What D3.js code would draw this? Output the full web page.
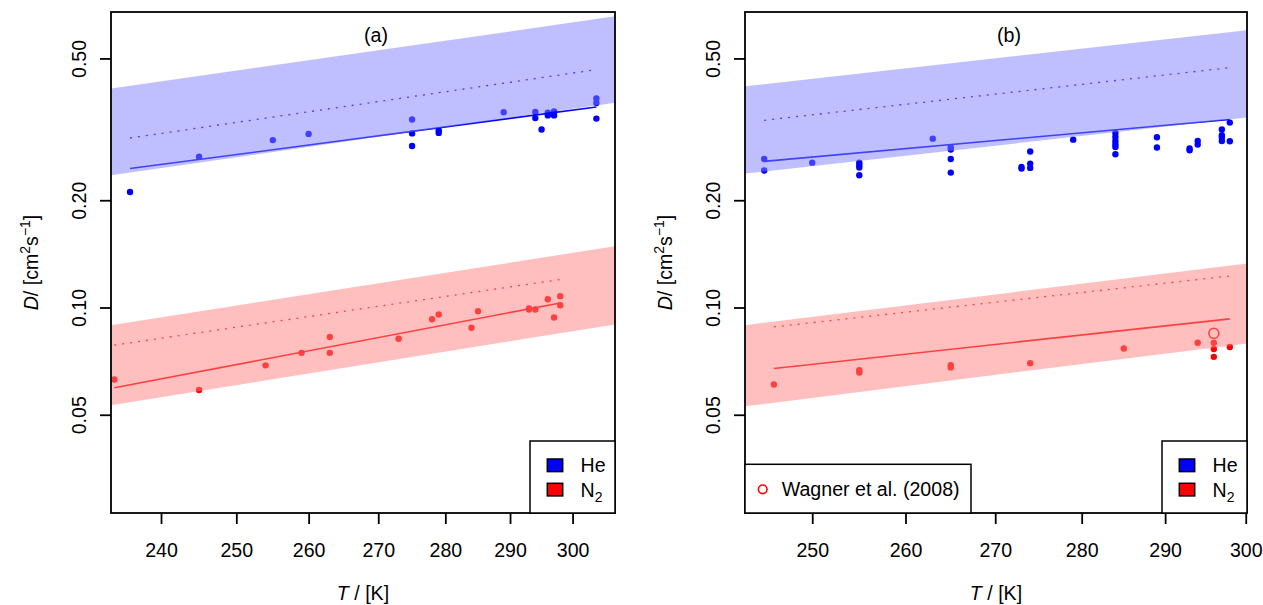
<!DOCTYPE html>
<html>
<head>
<meta charset="utf-8">
<script src="https://cdn.jsdelivr.net/npm/d3@7"></script>
<style>
  body { margin: 0; background: #fff; }
  svg { font-family: "Liberation Sans", Arial, sans-serif; }
</style>
</head>
<body>
<div id="chart"></div>
<script>
// ---- data ----
// panel (a)
const T_A_HE = [236, 245, 255, 260, 275, 275, 275, 279, 279, 289, 294, 294, 295, 296, 296, 297, 297, 303.9, 303.9, 303.9];
const D_A_HE = [0.211, 0.265, 0.295, 0.307, 0.337, 0.308, 0.284, 0.314, 0.309, 0.353, 0.354, 0.340, 0.316, 0.352, 0.346, 0.355, 0.346, 0.386, 0.375, 0.339];
const T_A_N2 = [234, 245, 254, 259, 263, 263, 273, 278, 279, 284, 285, 293, 293, 294, 296, 297, 298, 298];
const D_A_N2 = [0.0628, 0.0587, 0.0688, 0.0746, 0.0827, 0.0746, 0.0817, 0.0927, 0.0956, 0.0877, 0.0976, 0.0994, 0.0987, 0.0987, 0.1055, 0.0937, 0.1076, 0.1015];
// fitted (solid) and predicted (dotted) lines: [T, D]
const FIT_A_HE = [[236, 0.2454], [303.9, 0.3653]];
const PRED_A_HE = [[236, 0.2990], [303.9, 0.4652]];
const FIT_A_N2 = [[234, 0.0595], [298, 0.1030]];
const PRED_A_N2 = [[234, 0.0784], [298, 0.1198]];
// uncertainty bands: [T, lower, upper]
const BAND_A_HE = [[233.58, 0.2350, 0.4114], [306.98, 0.3758, 0.6563]];
const BAND_A_N2 = [[233.58, 0.0532, 0.0892], [306.98, 0.0896, 0.1486]];

// panel (b)
const T_B_HE = [245, 245, 250, 255, 255, 255, 255, 263, 265, 265, 265, 265, 273, 273, 274, 274, 274, 279,
  284, 284, 284, 284, 284, 284, 289, 289, 293, 293, 294, 294, 297, 297, 297, 297, 298, 298];
const D_B_HE = [0.2611, 0.2424, 0.2550, 0.2550, 0.2512, 0.2471, 0.2350, 0.2978, 0.2811, 0.2776, 0.2611, 0.2391,
  0.2454, 0.2481, 0.2740, 0.2534, 0.2465, 0.2958,
  0.3089, 0.3010, 0.2933, 0.2871, 0.2821, 0.2692, 0.3004, 0.2811, 0.2793, 0.2763, 0.2933, 0.2865,
  0.3158, 0.3043, 0.2998, 0.2933, 0.3303, 0.2928];
const T_B_N2 = [246, 255, 255, 265, 265, 274, 285, 294, 296, 296, 296, 298];
const D_B_N2 = [0.0608, 0.0667, 0.0657, 0.0689, 0.0679, 0.0698, 0.0767, 0.0796, 0.0796, 0.0765, 0.0727, 0.0775];
const T_WAGNER = [296];
const D_WAGNER = [0.0846];
const FIT_B_HE = [[245, 0.2571], [298, 0.3369]];
const PRED_B_HE = [[245, 0.3353], [298, 0.4712]];
const FIT_B_N2 = [[246, 0.0674], [298, 0.0929]];
const PRED_B_N2 = [[246, 0.0882], [298, 0.1226]];
const BAND_B_HE = [[243.03, 0.2376, 0.4176], [300.16, 0.3411, 0.5997]];
const BAND_B_N2 = [[243.03, 0.0528, 0.0892], [300.16, 0.0793, 0.1329]];

const X_TICKS_A = [240, 250, 260, 270, 280, 290, 300];
const X_TICKS_B = [250, 260, 270, 280, 290, 300];
const Y_TICKS = [0.05, 0.10, 0.20, 0.50];
const Y_DOMAIN = [0.0265, 0.675];
const LEGEND_GASES = ["He", "N2"];

const W = 1263, H = 605;
const FS = 19.6;
const BLUE = "#0000ff", RED = "#ff0000";

const svg = d3.select("#chart").append("svg")
  .attr("width", W).attr("height", H);

function drawPanel(cfg) {
  const x = d3.scaleLog().domain(cfg.xDomain).range([cfg.left, cfg.right]);
  const y = d3.scaleLog().domain(Y_DOMAIN).range([cfg.bottom, cfg.top]);
  const g = svg.append("g");

  const clipId = "clip-" + cfg.name;
  g.append("clipPath").attr("id", clipId).append("rect")
    .attr("x", cfg.left).attr("y", cfg.top)
    .attr("width", cfg.right - cfg.left).attr("height", cfg.bottom - cfg.top);
  const plot = g.append("g").attr("clip-path", "url(#" + clipId + ")");

  // points
  cfg.points.forEach(p => {
    plot.append("g").selectAll("circle")
      .data(d3.zip(p.T, p.D)).enter().append("circle")
      .attr("cx", d => x(d[0])).attr("cy", d => y(d[1]))
      .attr("r", 3.2).attr("fill", p.color);
  });
  if (cfg.open) {
    plot.append("g").selectAll("circle")
      .data(d3.zip(cfg.open.T, cfg.open.D)).enter().append("circle")
      .attr("cx", d => x(d[0])).attr("cy", d => y(d[1]))
      .attr("r", 5).attr("fill", "none").attr("stroke", RED).attr("stroke-width", 1.5);
  }

  // lines
  const line = d3.line().x(d => x(d[0])).y(d => y(d[1]));
  cfg.lines.forEach(l => {
    plot.append("path").attr("d", line(l.data))
      .attr("fill", "none").attr("stroke", l.color)
      .attr("stroke-width", l.dotted ? 1.3 : 1.6)
      .attr("stroke-dasharray", l.dotted ? "2,6" : null);
  });

  // bands on top, semi transparent
  const area = d3.area().x(d => x(d[0])).y0(d => y(d[1])).y1(d => y(d[2]));
  cfg.bands.forEach(b => {
    plot.append("path").attr("d", area(b.data))
      .attr("fill", b.color).attr("fill-opacity", 0.5).attr("stroke", "none");
  });

  // axes
  const xAxis = d3.axisBottom(x).tickValues(cfg.xTicks).tickFormat(d3.format("d"))
    .tickSize(11).tickPadding(0);
  const gx = g.append("g").attr("transform", "translate(0," + cfg.bottom + ")").call(xAxis);
  gx.select(".domain").remove();
  gx.selectAll("line").attr("stroke", "#000").attr("stroke-width", 1.8);
  gx.selectAll("text").attr("font-size", FS).attr("fill", "#000")
    .attr("y", 44).attr("dy", null);

  const yAxis = d3.axisLeft(y).tickValues(Y_TICKS).tickFormat(d3.format(".2f"))
    .tickSize(11).tickPadding(0);
  const gy = g.append("g").attr("transform", "translate(" + cfg.left + ",0)").call(yAxis);
  gy.select(".domain").remove();
  gy.selectAll("line").attr("stroke", "#000").attr("stroke-width", 1.8);
  gy.selectAll("text").attr("font-size", FS).attr("fill", "#000")
    .attr("x", null).attr("dy", null)
    .attr("text-anchor", "middle")
    .attr("transform", "translate(-25,0) rotate(-90)");

  // frame
  g.append("rect").attr("x", cfg.left).attr("y", cfg.top)
    .attr("width", cfg.right - cfg.left).attr("height", cfg.bottom - cfg.top)
    .attr("fill", "none").attr("stroke", "#000").attr("stroke-width", 1.8);

  // axis titles
  const cx = (cfg.left + cfg.right) / 2;
  const xt = g.append("text").attr("x", cx).attr("y", 600)
    .attr("text-anchor", "middle").attr("font-size", FS);
  xt.append("tspan").attr("font-style", "italic").text("T");
  xt.append("tspan").text(" / [K]");

  const cy = (cfg.top + cfg.bottom) / 2;
  const yt = g.append("text").attr("text-anchor", "middle").attr("font-size", FS)
    .attr("transform", "translate(" + (cfg.left - 73) + "," + cy + ") rotate(-90)");
  yt.append("tspan").attr("font-style", "italic").text("D");
  yt.append("tspan").text("/ [cm");
  yt.append("tspan").attr("font-size", 14).attr("dy", -8).text("2");
  yt.append("tspan").attr("dy", 8).text("s");
  yt.append("tspan").attr("font-size", 14).attr("dy", -8).text("\u22121");
  yt.append("tspan").attr("dy", 8).text("]");

  // panel label
  g.append("text").attr("x", cx + 13).attr("y", 42)
    .attr("text-anchor", "middle").attr("font-size", FS).text(cfg.label);

  // gas legend
  const lg = g.append("g");
  const lx = cfg.right - 85, ly = 441;
  lg.append("rect").attr("x", lx).attr("y", ly).attr("width", cfg.right - lx).attr("height", cfg.bottom - ly)
    .attr("fill", "#fff").attr("stroke", "#000").attr("stroke-width", 1.5);
  LEGEND_GASES.forEach((name, i) => {
    const yy = 459 + i * 24.3;
    lg.append("rect").attr("x", lx + 17.3).attr("y", yy).attr("width", 15.4).attr("height", 12.6)
      .attr("fill", i === 0 ? BLUE : RED).attr("stroke", "#000").attr("stroke-width", 1.5);
    const t = lg.append("text").attr("x", lx + 50.5).attr("y", yy + 13.3).attr("font-size", FS);
    if (name === "N2") {
      t.append("tspan").text("N");
      t.append("tspan").attr("font-size", 14).attr("dy", 5).text("2");
    } else {
      t.text(name);
    }
  });

  if (cfg.open) {
    const wx = cfg.left, wy = 464.3, ww = 226;
    lg.append("rect").attr("x", wx).attr("y", wy).attr("width", ww).attr("height", cfg.bottom - wy)
      .attr("fill", "#fff").attr("stroke", "#000").attr("stroke-width", 1.5);
    lg.append("circle").attr("cx", wx + 17.7).attr("cy", 489.3).attr("r", 4.3)
      .attr("fill", "none").attr("stroke", RED).attr("stroke-width", 1.6);
    lg.append("text").attr("x", wx + 36.7).attr("y", 496.3).attr("font-size", FS)
      .text("Wagner et al. (2008)");
  }
}

drawPanel({
  name: "a", label: "(a)",
  left: 111, right: 615, top: 12, bottom: 513,
  xDomain: [233.58, 306.98], xTicks: X_TICKS_A,
  points: [{T: T_A_HE, D: D_A_HE, color: BLUE}, {T: T_A_N2, D: D_A_N2, color: RED}],
  lines: [
    {data: FIT_A_HE, color: BLUE}, {data: PRED_A_HE, color: BLUE, dotted: true},
    {data: FIT_A_N2, color: RED}, {data: PRED_A_N2, color: RED, dotted: true}
  ],
  bands: [{data: BAND_A_HE, color: "#8080ff"}, {data: BAND_A_N2, color: "#ff8080"}]
});

drawPanel({
  name: "b", label: "(b)",
  left: 745, right: 1247, top: 12, bottom: 513,
  xDomain: [243.03, 300.16], xTicks: X_TICKS_B,
  points: [{T: T_B_HE, D: D_B_HE, color: BLUE}, {T: T_B_N2, D: D_B_N2, color: RED}],
  open: {T: T_WAGNER, D: D_WAGNER},
  lines: [
    {data: FIT_B_HE, color: BLUE}, {data: PRED_B_HE, color: BLUE, dotted: true},
    {data: FIT_B_N2, color: RED}, {data: PRED_B_N2, color: RED, dotted: true}
  ],
  bands: [{data: BAND_B_HE, color: "#8080ff"}, {data: BAND_B_N2, color: "#ff8080"}]
});
</script>
</body>
</html>
